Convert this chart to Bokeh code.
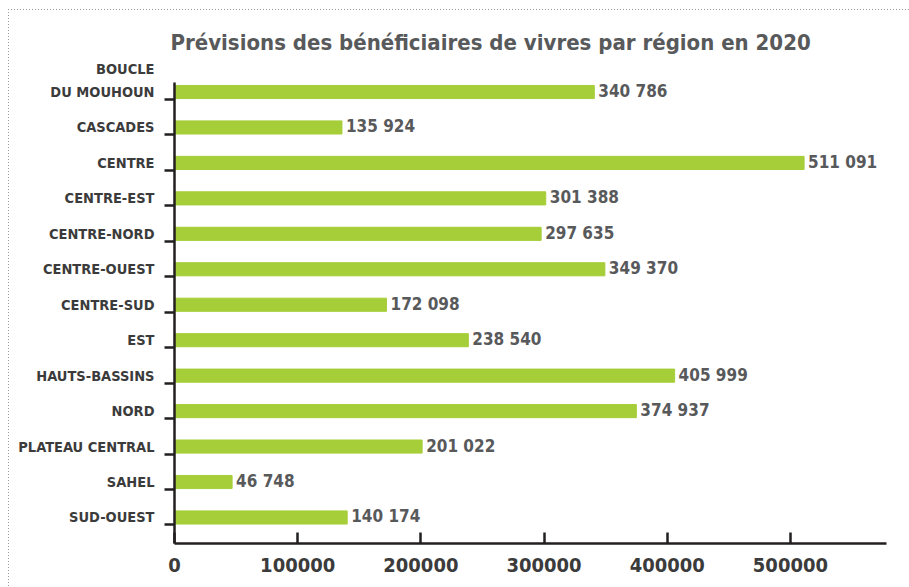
from bokeh.plotting import figure
from bokeh.models import (Range1d, FixedTicker, ColumnDataSource, LabelSet,
                          NumeralTickFormatter)
from bokeh.core.properties import value
from bokeh.embed import file_html
from bokeh.resources import INLINE

regions = ["BOUCLE\nDU MOUHOUN", "CASCADES", "CENTRE", "CENTRE-EST", "CENTRE-NORD",
           "CENTRE-OUEST", "CENTRE-SUD", "EST", "HAUTS-BASSINS", "NORD",
           "PLATEAU CENTRAL", "SAHEL", "SUD-OUEST"]
beneficiaires = [340786, 135924, 511091, 301388, 297635, 349370, 172098,
                 238540, 405999, 374937, 201022, 46748, 140174]
x_ticks = [0, 100000, 200000, 300000, 400000, 500000]
title_text = "Prévisions des bénéficiaires de vivres par région en 2020"

FONT = "DejaVu Sans Condensed, Roboto Condensed, Roboto"
BAR = "#a6ce39"
AXIS = "#231f20"

idx = list(range(len(regions)))

p = figure(width=909, height=587, output_backend="svg", toolbar_location=None,
           x_range=Range1d(0, 578000), y_range=Range1d(12.734, -0.268),
           min_border_left=174, min_border_right=23, min_border_top=82,
           min_border_bottom=44, border_fill_color=None,
           background_fill_color=None)
p.styles = {
    "background-image": ("repeating-linear-gradient(to right, #9a9a9a 0 1px, transparent 1px 3px), "
                         "repeating-linear-gradient(to bottom, #9a9a9a 0 1px, transparent 1px 3px)"),
    "background-size": "100% 1px, 1px 100%",
    "background-position": "8px 9px, 8px 9px",
    "background-repeat": "no-repeat",
}

src = ColumnDataSource(dict(y=idx, v=beneficiaires,
                            txt=[f"{v:,}".replace(",", " ") for v in beneficiaires]))
p.hbar(y="y", left=0, right="v", height=0.37, source=src, color=BAR)

p.add_layout(LabelSet(x="v", y="y", text="txt", source=src, x_offset=4, y_offset=1,
                      text_align="left", text_baseline="middle", text_font=value(FONT),
                      text_font_style="bold", text_font_size="17px",
                      text_color="#58595b"))

# y axis: category names at bar centres, tick marks (minor) at lower edge of each bar
# (multi-line names keep their last line level with the bar, as in the original)
p.yaxis.ticker = FixedTicker(ticks=idx, minor_ticks=[i + 0.21 for i in idx])
p.yaxis.major_label_overrides = {i: (r + "\n" if "\n" in r else r)
                                 for i, r in zip(idx, regions)}
p.yaxis.major_tick_line_color = None
p.yaxis.major_tick_in = 0
p.yaxis.major_tick_out = 0
p.yaxis.minor_tick_in = 0
p.yaxis.minor_tick_out = 10
p.yaxis.minor_tick_line_width = 2.5
p.yaxis.minor_tick_line_color = AXIS
p.yaxis.axis_line_width = 2.5
p.yaxis.axis_line_color = AXIS
p.yaxis.major_label_standoff = 10
p.yaxis.major_label_text_font = FONT
p.yaxis.major_label_text_font_style = "bold"
p.yaxis.major_label_text_font_size = "14.5px"
p.yaxis.major_label_text_color = "#3b3b3b"
p.yaxis.major_label_text_line_height = 1.45

p.xaxis.ticker = FixedTicker(ticks=x_ticks)
p.xaxis.formatter = NumeralTickFormatter(format="0")
p.xaxis.major_tick_in = 11
p.xaxis.major_tick_out = 0
p.xaxis.minor_tick_line_color = None
p.xaxis.axis_line_width = 2.5
p.xaxis.axis_line_color = AXIS
p.xaxis.major_tick_line_width = 2.5
p.xaxis.major_tick_line_color = AXIS
p.xaxis.major_label_text_font = FONT
p.xaxis.major_label_text_font_style = "bold"
p.xaxis.major_label_text_font_size = "20px"
p.xaxis.major_label_text_color = "#3b3b3b"
p.xaxis.major_label_standoff = 14

p.xgrid.visible = False
p.ygrid.visible = False
p.outline_line_color = None

p.title.text = title_text
p.title.text_font = FONT
p.title.text_font_size = "22px"
p.title.text_font_style = "bold"
p.title.text_color = "#58595b"
p.title.align = "left"
p.title.offset = -4
p.title.standoff = 55

open("out.html", "w").write(file_html(p, INLINE))
